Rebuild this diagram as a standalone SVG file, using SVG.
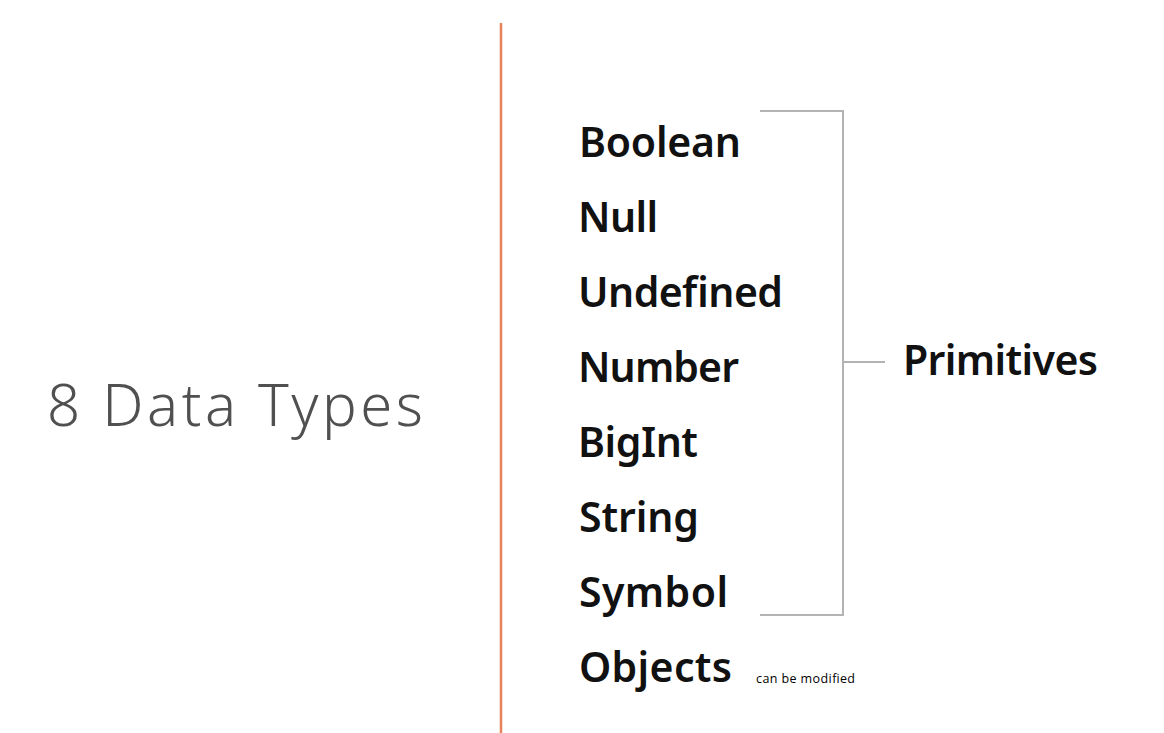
<svg xmlns="http://www.w3.org/2000/svg" width="1164" height="733" viewBox="0 0 1164 733">
  <style>
    .title { font-family: "Noto Sans", Lato, sans-serif; font-weight: 300; font-size: 58px; fill: #505050; }
    .item { font-family: "Noto Sans", Lato, sans-serif; font-weight: 600; font-size: 41px; fill: #111111; }
    .note { font-family: "Open Sans", "Liberation Sans", sans-serif; font-size: 12.5px; fill: #000000; }
    .divider { stroke: #E8825A; stroke-width: 2.5; fill: none; }
    .bracket { stroke: #B3B3B3; stroke-width: 2; fill: none; }
  </style>
  <rect width="1164" height="733" fill="#ffffff"/>

  <g id="title">
    <text class="title" x="47" y="426" textLength="376">8 Data Types</text>
  </g>

  <g id="divider">
    <line class="divider" x1="501" y1="23" x2="501" y2="733"/>
  </g>

  <g id="types">
    <text class="item" x="579" y="157" textLength="162">Boolean</text>
    <text class="item" x="578" y="232" textLength="80">Null</text>
    <text class="item" x="578" y="307" textLength="205">Undefined</text>
    <text class="item" x="578" y="382" textLength="161">Number</text>
    <text class="item" x="578" y="457" textLength="120">BigInt</text>
    <text class="item" x="579" y="532" textLength="120">String</text>
    <text class="item" x="579" y="607" textLength="149">Symbol</text>
    <text class="item" x="579" y="682" textLength="153">Objects</text>
  </g>

  <g id="connectors">
    <path class="bracket" d="M760 111 H843 V615 H760"/>
    <line class="bracket" x1="843" y1="362" x2="885" y2="362"/>
  </g>

  <g id="primitives">
    <text class="item" x="903" y="375" textLength="195">Primitives</text>
  </g>

  <g id="note">
    <text class="note" x="756" y="683" textLength="99">can be modified</text>
  </g>
</svg>
